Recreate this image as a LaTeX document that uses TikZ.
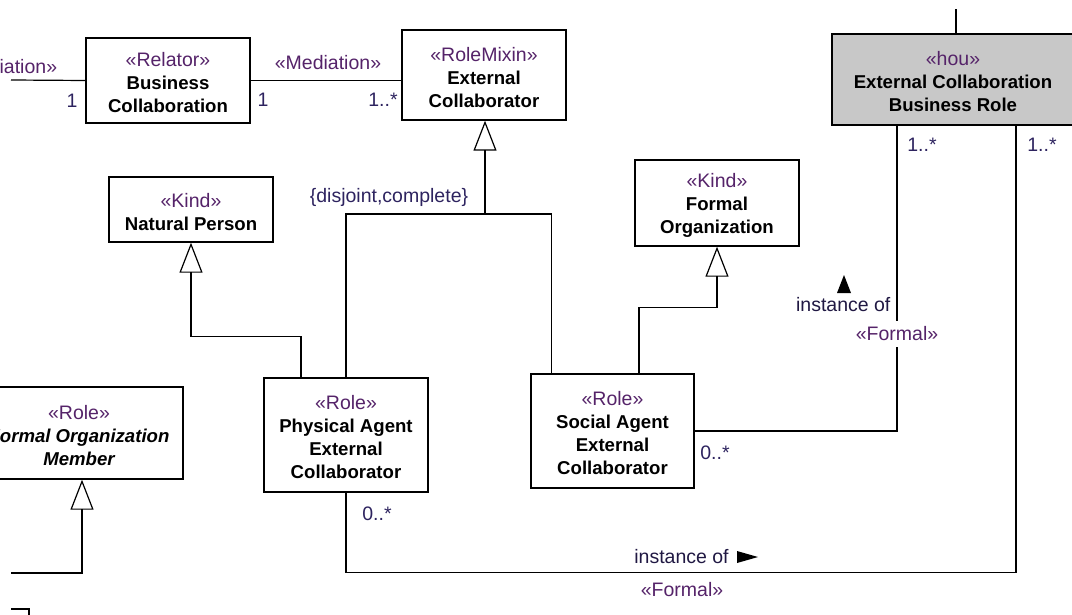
\documentclass[tikz,border=0pt]{standalone}
\usepackage{fontspec}
\setmainfont{Liberation Sans}
\usetikzlibrary{arrows.meta,calc}

\definecolor{stereocol}{RGB}{85,35,105}
\definecolor{multcol}{RGB}{45,35,95}
\definecolor{rolegray}{RGB}{200,200,200}
\newcommand{\stype}[1]{{\color{stereocol}\mdseries\upshape\fontsize{19.5}{23}\selectfont«#1»}}
\newcommand{\toppad}{\rule{0pt}{19pt}}

\begin{document}
\begin{tikzpicture}[
  x=1pt, y=-1pt,
  font=\fontsize{19.5}{23}\selectfont,
  line width=1.2pt,
  umlbox/.style={draw, align=center, inner sep=0pt, line width=1.4pt,
    font=\fontsize{18.6}{23}\selectfont\bfseries},
  genline/.style={-{Triangle[open,length=30pt,width=23pt]}},
  mult/.style={text=multcol},
  asslabel/.style={text=multcol!70!black, inner sep=0pt}
]
  \useasboundingbox (0,0) rectangle (1072,615);
  \clip (0,0) rectangle (1072,615);

  % Classes
  \node (bizcollab) at (168,80.5) [umlbox, minimum width=164pt, minimum height=85pt]
    {\toppad\stype{Relator}\\Business\\Collaboration};
  \node (extcollab) at (484,75) [umlbox, minimum width=164pt, minimum height=90pt]
    {\toppad\stype{RoleMixin}\\External\\Collaborator};
  \node (busrole) at (953,79.5) [umlbox, fill=rolegray, minimum width=242pt, minimum height=91pt]
    {\toppad\stype{hou}\\External Collaboration\\Business Role};
  \node (natperson) at (191,209.5) [umlbox, minimum width=164pt, minimum height=65pt]
    {\toppad\stype{Kind}\\Natural Person};
  \node (formalorg) at (717,203) [umlbox, minimum width=164pt, minimum height=86pt]
    {\toppad\stype{Kind}\\Formal\\Organization};
  \node (physagent) at (346,435) [umlbox, minimum width=164pt, minimum height=114pt]
    {\toppad\stype{Role}\\Physical Agent\\External\\Collaborator};
  \node (socagent) at (612.5,431) [umlbox, minimum width=163pt, minimum height=114pt]
    {\toppad\stype{Role}\\Social Agent\\External\\Collaborator};
  \node (fomember) at (79,433) [umlbox, minimum width=208pt, minimum height=92pt]
    {\toppad\stype{Role}\\\itshape Formal Organization\\\itshape Member};

  % Mediations
  \coordinate (medleft) at (11,80);
  \draw (medleft) -- (bizcollab.west);
  \node at (4,67) {\stype{Mediation}};
  \node at (72,101) [mult] {1};
  \draw (bizcollab.east) -- (bizcollab.east -| extcollab.west);
  \node at (328,63) {\stype{Mediation}};
  \node at (263,100) [mult] {1};
  \node at (383,100) [mult] {1..*};
  \draw ([xshift=3pt]busrole.north) -- ++(0,-24);

  % Generalization set
  \coordinate (gsjoin) at (485,214);
  \draw[genline] (gsjoin) -- (gsjoin |- extcollab.south);
  \draw (physagent.north) |- (gsjoin) -| ([xshift=21pt]socagent.north west);
  \node at (389,197) [mult] {\{disjoint,complete\}};

  % Other generalizations
  \draw[genline] ([xshift=-45pt]physagent.north) -- ++(0,-41) -| (natperson.south);
  \draw[genline] ([xshift=26.5pt]socagent.north) -- ++(0,-66) -| (formalorg.south);
  \coordinate (fomleft) at (11,573);
  \draw[genline] (fomleft) -| ([xshift=3pt]fomember.south);
  \draw (11,609) -- (29,609) -- (29,620);

  % Instance of (social agent)
  \draw (socagent.east) -| ([xshift=-56pt]busrole.south);
  \node at (897,334) [fill=white, inner sep=0pt, minimum height=26pt] {\stype{Formal}};
  \node at (891,305) [asslabel, anchor=east] {instance of};
  \fill (837,293) -- (844,275) -- (851,293) -- cycle;
  \node at (922,145) [mult] {1..*};
  \node at (715,453) [mult] {0..*};

  % Instance of (physical agent)
  \draw (physagent.south) -- ++(0,80) -| ([xshift=63pt]busrole.south);
  \node at (377,514) [mult] {0..*};
  \node at (681.5,557) [asslabel] {instance of};
  \fill (737,551) -- (758,557) -- (737,563) -- cycle;
  \node at (682,590) {\stype{Formal}};
  \node at (1042,145) [mult] {1..*};

\end{tikzpicture}
\end{document}
